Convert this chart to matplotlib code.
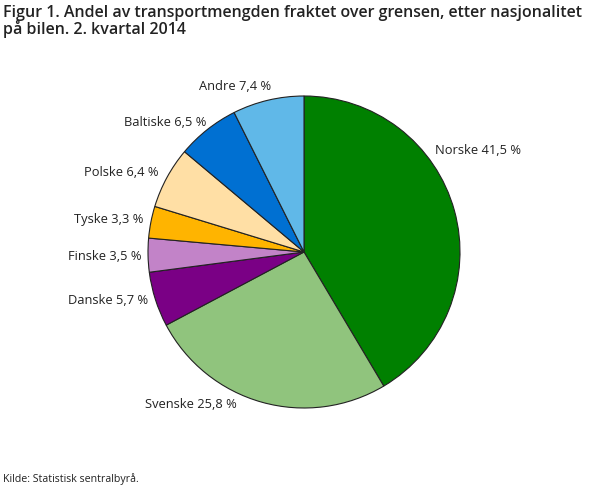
import matplotlib.pyplot as plt

# data
kategorier = ['Norske', 'Svenske', 'Danske', 'Finske', 'Tyske', 'Polske', 'Baltiske', 'Andre']
andeler = [41.5, 25.8, 5.7, 3.5, 3.3, 6.4, 6.5, 7.4]
farger = ['#008000', '#90c47d', '#7a0085', '#c283c8', '#ffb400', '#ffdfa5', '#0070d2', '#60b8e8']

tittel = 'Figur 1. Andel av transportmengden fraktet over grensen, etter nasjonalitet\npå bilen. 2. kvartal 2014'
kilde = 'Kilde: Statistisk sentralbyrå.'

# layout (pikselkoordinater, y nedover i bildet)
W, H = 610, 488
senter = (304, 252)
radius = 156
# label-ankre: (x, y, justering)
etikett_pos = [
    (435, 151, 'left'),
    (237, 405, 'right'),
    (148, 301, 'right'),
    (142, 257, 'right'),
    (143, 220, 'right'),
    (158, 172, 'right'),
    (206, 122, 'right'),
    (271, 87, 'right'),
]

plt.rcParams['font.family'] = ['Open Sans', 'DejaVu Sans']

fig = plt.figure(figsize=(W / 100, H / 100), dpi=100)
ax = fig.add_axes([0, 0, 1, 1])

ax.pie(andeler, colors=farger, startangle=90, counterclock=False,
       center=(senter[0], H - senter[1]), radius=radius, frame=True,
       wedgeprops=dict(edgecolor='#222222', linewidth=0.8))
ax.set_xlim(0, W)
ax.set_ylim(0, H)
ax.set_aspect('equal')
ax.axis('off')

for navn, verdi, (x, y, ha) in zip(kategorier, andeler, etikett_pos):
    tekst = f'{navn} {verdi:.1f} %'.replace('.', ',')
    ax.text(x, H - y, tekst, ha=ha, va='center', fontsize=9.3, color='#222222')

fig.text(3 / W, 1 - 5 / H, tittel, ha='left', va='top', fontsize=11.5,
         fontweight='semibold', color='#222222', linespacing=0.92)
fig.text(3 / W, 1 - 479 / H, kilde, ha='left', va='center', fontsize=7.7, color='#222222')

fig.savefig('out.png', dpi=100)
